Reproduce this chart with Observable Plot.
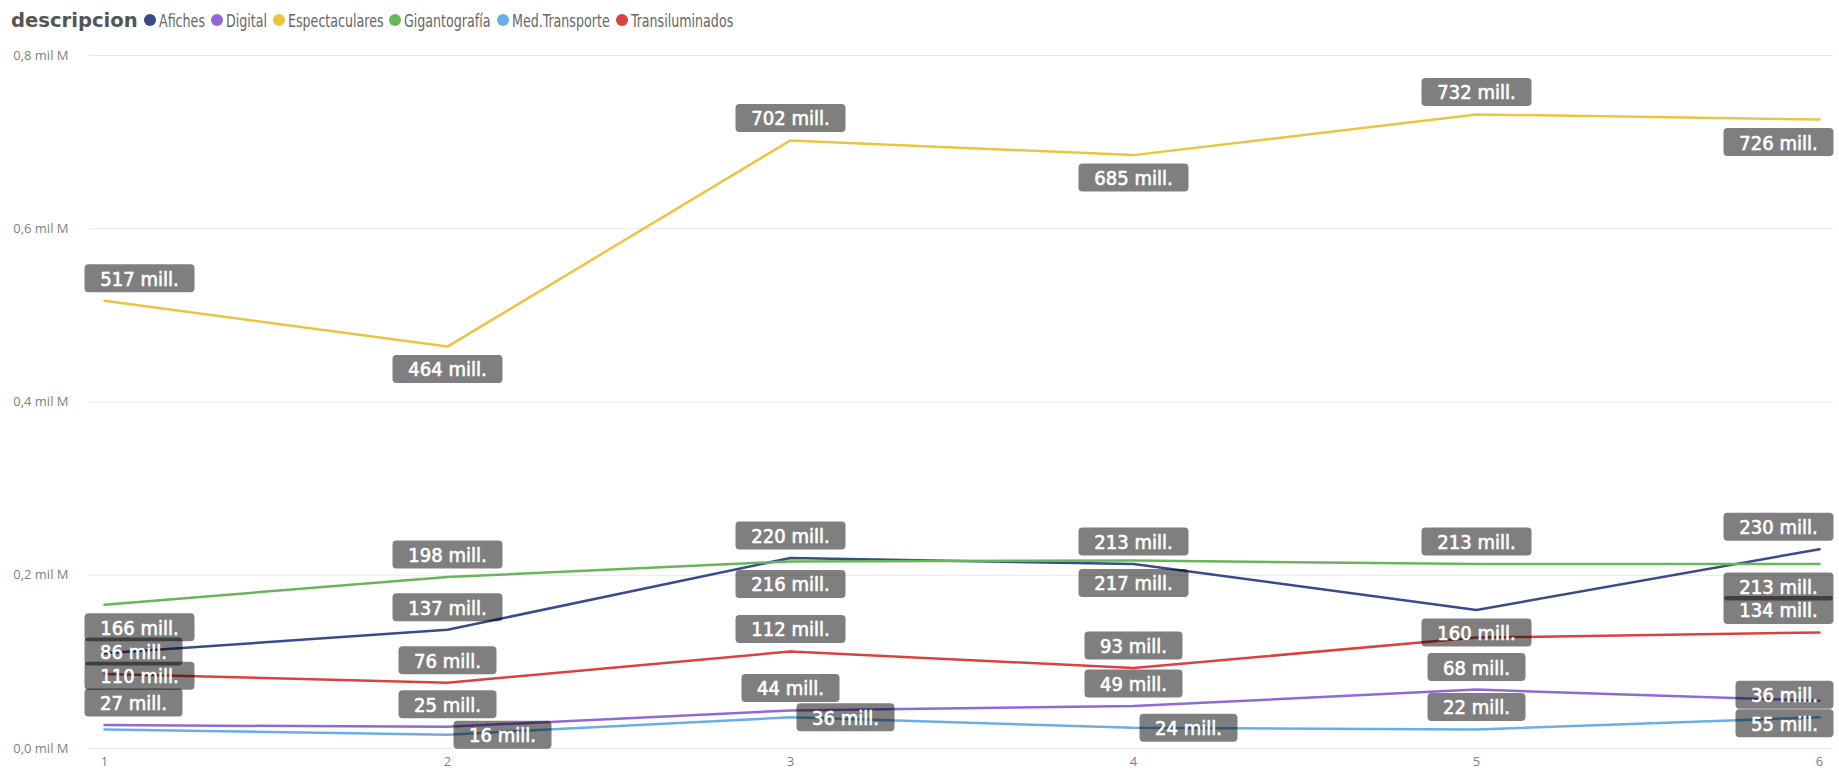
<!DOCTYPE html>
<html>
<head>
<meta charset="utf-8">
<script src="https://cdn.jsdelivr.net/npm/d3@7"></script>
<script src="https://cdn.jsdelivr.net/npm/@observablehq/plot@0.6"></script>
<style>
  body { margin: 0; background: #fff; }
  #legend { height: 40px; display: flex; align-items: center; padding-left: 11px; gap: 6px;
    font-family: "DejaVu Sans Condensed", "DejaVu Sans", sans-serif; font-size: 18.5px; color: #666; white-space: nowrap; }
  #legend .title { font-family: "DejaVu Sans", sans-serif; font-weight: bold; color: #555; font-size: 19.6px; }
  #legend .item { display: flex; align-items: center; gap: 3px; }
  #legend .dot { width: 12px; height: 12px; border-radius: 50%; display: inline-block; flex: none; }
  #legend .lab { display: inline-block; transform-origin: 0 50%; }
</style>
</head>
<body>
<div id="legend"></div>
<div id="chart"></div>
<script>
// ---- data ----
const periods = [1, 2, 3, 4, 5, 6];
const legendTitle = "descripcion";
const seriesNames = ["Afiches", "Digital", "Espectaculares", "Gigantografía", "Med.Transporte", "Transiluminados"];
const seriesColors = ["#3B4A8C", "#9069D9", "#EBC542", "#68B55A", "#6AAEE6", "#D9433F"];
const afiches         = [110, 137, 220, 213, 160, 230];
const digital         = [27, 25, 44, 49, 68, 55];
const espectaculares  = [517, 464, 702, 685, 732, 726];
const gigantografia   = [166, 198, 216, 217, 213, 213];
const medTransporte   = [22, 16, 36, 24, 22, 36];
const transiluminados = [86, 76, 112, 93, 128, 134];
// data-label placement per point: a = above, b = below, r = right, "" = not shown
const placeAfiches         = ["b", "a", "a", "a", "b", "a"];
const placeDigital         = ["a", "a", "a", "a", "a", "b"];
const placeEspectaculares  = ["a", "b", "a", "b", "a", "b"];
const placeGigantografia   = ["b", "a", "b", "b", "a", "b"];
const placeMedTransporte   = ["", "r", "r", "r", "a", "a"];
const placeTransiluminados = ["a", "a", "a", "a", "", "a"];
const yTicks = [0, 200, 400, 600, 800];

const seriesValues = [afiches, digital, espectaculares, gigantografia, medTransporte, transiluminados];
const seriesPlace = [placeAfiches, placeDigital, placeEspectaculares, placeGigantografia, placeMedTransporte, placeTransiluminados];

// ---- legend ----
const legend = document.getElementById("legend");
const t = document.createElement("span"); t.className = "title"; t.textContent = legendTitle; legend.appendChild(t);
const labSpans = [];
seriesNames.forEach((s, i) => {
  const it = document.createElement("span"); it.className = "item";
  const d = document.createElement("span"); d.className = "dot"; d.style.background = seriesColors[i];
  const l = document.createElement("span"); l.className = "lab"; l.textContent = s;
  it.appendChild(d); it.appendChild(l); legend.appendChild(it); labSpans.push(l);
});
// condensed look for legend entries
const squeeze = 0.76;
for (const l of labSpans) {
  const w = l.getBoundingClientRect().width;
  l.style.transform = `scaleX(${squeeze})`;
  l.style.marginRight = `${-(1 - squeeze) * w}px`;
}

// ---- layout ----
const W = 1839, H = 733, mL = 89, mR = 6, mT = 15, mB = 25, inL = 15, inR = 14;
const boxH = 28, offV = 22.5;

const rows = seriesNames.flatMap((s, i) => periods.map((p, j) => ({series: s, period: p, value: seriesValues[i][j]})));
const labels = seriesNames.flatMap((s, i) => periods.map((p, j) => ({
  series: s, period: p, value: seriesValues[i][j], place: seriesPlace[i][j], j,
  text: seriesValues[i][j] + " mill."
}))).filter(d => d.place);

function boxSymbol(w, h, r) {
  return {draw(ctx) {
    const x0 = -w / 2, y0 = -h / 2, x1 = w / 2, y1 = h / 2;
    ctx.moveTo(x0 + r, y0); ctx.lineTo(x1 - r, y0); ctx.arcTo(x1, y0, x1, y0 + r, r);
    ctx.lineTo(x1, y1 - r); ctx.arcTo(x1, y1, x1 - r, y1, r);
    ctx.lineTo(x0 + r, y1); ctx.arcTo(x0, y1, x0, y1 - r, r);
    ctx.lineTo(x0, y0 + r); ctx.arcTo(x0, y0, x0 + r, y0, r); ctx.closePath();
  }};
}

// group labels by offset
const groups = new Map();
for (const d of labels) {
  const w = String(d.value).length >= 3 ? 110 : 98;
  let dx = 0, dy = 0;
  if (d.place === "a") dy = -offV; else if (d.place === "b") dy = offV; else { dx = 6 + w / 2; }
  if (d.place !== "r") {
    if (d.j === 0) dx = -(inL + 5) + w / 2;
    if (d.j === periods.length - 1) dx = inR - w / 2;
  }
  const key = [w, dx, dy].join("|");
  if (!groups.has(key)) groups.set(key, {w, dx, dy, data: []});
  groups.get(key).data.push(d);
}
const boxMarks = [], textMarks = [];
for (const g of groups.values()) {
  boxMarks.push(Plot.dot(g.data, {x: "period", y: "value", dx: g.dx, dy: g.dy, symbol: boxSymbol(g.w, boxH, 4),
    fill: "black", fillOpacity: 0.5, stroke: "none"}));
  textMarks.push(Plot.text(g.data, {x: "period", y: "value", dx: g.dx, dy: g.dy + 1, text: "text", fill: "#fff",
    stroke: "#fff", strokeWidth: 0.6,
    fontSize: 20, fontFamily: "'DejaVu Sans Condensed', 'DejaVu Sans', sans-serif"}));
}

const chart = Plot.plot({
  width: W, height: H, marginLeft: mL, marginRight: mR, marginTop: mT, marginBottom: mB,
  style: {fontFamily: "'Open Sans', sans-serif", fontSize: "13px", color: "#808080", background: "#fff"},
  x: {type: "linear", domain: [1, 6], insetLeft: inL, insetRight: inR},
  y: {domain: [0, 800]},
  color: {domain: seriesNames, range: seriesColors},
  marks: [
    Plot.gridY(yTicks, {stroke: "#e8e8e8", strokeOpacity: 1}),
    Plot.axisY({ticks: yTicks, tickSize: 0, tickPadding: 21, label: null,
      tickFormat: d => (d / 1000).toFixed(1).replace(".", ",") + " mil M"}),
    Plot.axisX({ticks: periods, tickSize: 0, tickPadding: 8, label: null, tickFormat: d => String(d)}),
    Plot.line(rows, {x: "period", y: "value", z: "series", stroke: "series", strokeWidth: 2.5}),
    ...boxMarks,
    ...textMarks
  ]
});
document.getElementById("chart").appendChild(chart);
</script>
</body>
</html>
